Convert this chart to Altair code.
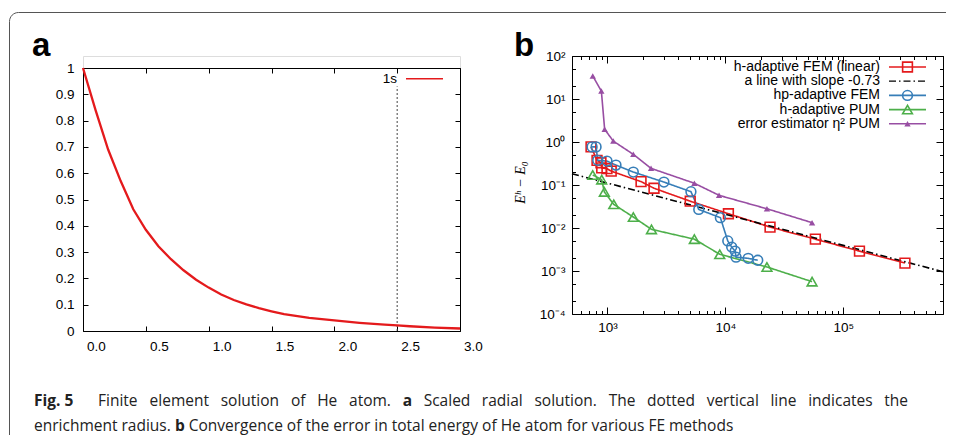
import altair as alt
import pandas as pd

# ---------------- Panel a : scaled radial solution ----------------
r_vals = [0.0, 0.1, 0.2, 0.3, 0.4, 0.5, 0.6, 0.7, 0.8, 0.9, 1.0, 1.1, 1.2,
          1.3, 1.4, 1.5, 1.6, 1.8, 2.0, 2.2, 2.4, 2.5, 2.6, 2.8, 3.0]
psi_vals = [1.00, 0.84, 0.69, 0.57, 0.463, 0.385, 0.322, 0.273, 0.231, 0.195,
            0.165, 0.139, 0.118, 0.101, 0.087, 0.075, 0.064, 0.05, 0.04,
            0.031, 0.024, 0.021, 0.018, 0.013, 0.0095]
curve_name = "1s"
curve_color = "#e41a1c"
enrich_radius = 2.5
enrich_top = 0.93
xa_ticks = [0.0, 0.5, 1.0, 1.5, 2.0, 2.5, 3.0]
ya_ticks = [0.0, 0.1, 0.2, 0.3, 0.4, 0.5, 0.6, 0.7, 0.8, 0.9, 1.0]

# ---------------- Panel b : convergence ----------------
series_names = ["h-adaptive FEM (linear)", "a line with slope -0.73",
                "hp-adaptive FEM", "h-adaptive PUM", "error estimator η² PUM"]
series_colors = ["#e41a1c", "#000000", "#377eb8", "#4daf4a", "#984ea3"]
series_shapes = ["square", None, "circle", "triangle-up", "triangle-up"]

h_fem_dofs = [725, 815, 880, 893, 990, 1075, 1925, 2480, 5030, 10600, 23900,
              57900, 137000, 333000]
h_fem_err = [0.77, 0.375, 0.33, 0.25, 0.24, 0.21, 0.12, 0.084, 0.042, 0.0215,
             0.0105, 0.0055, 0.0029, 0.00153]

slope_dofs = [500, 700000]
slope_err = [0.183, 0.00096]

hp_fem_dofs = [740, 800, 826, 990, 1180, 1655, 3010, 5100, 5940, 9060, 10470,
               11300, 12100, 12300, 15600, 18800]
hp_fem_err = [0.77, 0.77, 0.375, 0.36, 0.29, 0.20, 0.117, 0.07, 0.027, 0.0174,
              0.005, 0.0036, 0.0029, 0.0021, 0.00197, 0.00178]

h_pum_dofs = [750, 893, 940, 1130, 1655, 2360, 5450, 8950, 22500, 54300]
h_pum_err = [0.171, 0.133, 0.069, 0.0355, 0.018, 0.0093, 0.0055, 0.00245,
             0.00124, 0.000565]

est_dofs = [750, 887, 946, 1120, 1655, 2340, 5450, 8830, 22500, 54300]
est_err = [34.3, 15.3, 1.97, 1.05, 0.516, 0.244, 0.11, 0.0575, 0.028, 0.0133]

xb_major = [1000, 10000, 100000]
xb_labels = ["10³", "10⁴", "10⁵"]
xb_all = [500, 600, 700, 800, 900,
          1000, 2000, 3000, 4000, 5000, 6000, 7000, 8000, 9000,
          10000, 20000, 30000, 40000, 50000, 60000, 70000, 80000, 90000,
          100000, 200000, 300000, 400000, 500000, 600000, 700000]
yb_major = [0.0001, 0.001, 0.01, 0.1, 1, 10, 100]
yb_labels = ["10⁻⁴", "10⁻³", "10⁻²", "10⁻¹", "10⁰", "10¹", "10²"]
yb_all = [0.0001, 0.0002, 0.0005, 0.001, 0.002, 0.005, 0.01, 0.02, 0.05,
          0.1, 0.2, 0.5, 1, 2, 5, 10, 20, 50, 100]

caption_fig = "Fig. 5"
caption_1 = [("Finite element solution of He atom.", False), ("a", True),
             ("Scaled radial solution. The dotted vertical line indicates the", False)]
caption_2 = [("enrichment radius.", False), ("b", True),
             ("Convergence of the error in total energy of He atom for various FE methods", False)]

# ---------------- layout constants ----------------
W_A, H_A, TOP_A = 377, 275, 12
W_B, H_B = 371, 258
SPACING = 112
OX, OY = 82, 55            # page position of left panel group
OXB = OX + W_A + SPACING   # page position of right panel group
FONT = "Liberation Sans"
SERIF = "Liberation Serif"
CAP_FONT = "Open Sans"
CAP_FS = 15.5
TFS = 13.5

# approximate Open Sans advance widths (em) used to justify caption line 1
_W = {" ": .26, ".": .266, "a": .556, "c": .476, "d": .613, "e": .561, "f": .339,
      "g": .548, "h": .614, "i": .253, "l": .253, "m": .93, "n": .614, "o": .604,
      "r": .408, "s": .477, "t": .353, "u": .614, "v": .501, "F": .541, "H": .738,
      "S": .539, "T": .536}
_WB = {"a": .60, "b": .63}


def word_width(w, bold):
    tab = _WB if bold else _W
    return sum(tab.get(c, .55) for c in w) * CAP_FS


# frame (top-left corner rounded, only top and left edges visible)
FX1, FY1, FX2, FY2, FR = -73.5, -43.5, 863, 379, 9
_arc = 3.1416 * FR / 2
_w = FX2 - FX1
_h = FY2 - FY1
FRAME_DASH = [_w - FR, _h + _w, _h - FR + _arc + 2, 20]


def tick_axis(orient, offset, values, size, domain):
    return alt.Axis(orient=orient, offset=offset, values=values, labels=False,
                    domain=domain, domainColor="black", domainWidth=1,
                    ticks=True, tickSize=size, tickColor="black", tickWidth=1,
                    grid=False, title=None)


def text_layer(txt, x, y, size, weight="normal", font=FONT, color="#222",
               align="left", baseline="alphabetic"):
    """x, y are coordinates inside the panel group."""
    return alt.Chart(pd.DataFrame({"t": [txt]})).mark_text(
        align=align, baseline=baseline, font=font, fontSize=size,
        fontWeight=weight, color=color
    ).encode(x=alt.value(x), y=alt.value(y), text="t:N")


# ======================= Panel a =======================
a_df = pd.DataFrame({"r": r_vals, "psi": psi_vals})
xs_a = alt.Scale(domain=[0, 3], nice=False, zero=False)
ys_a = alt.Scale(domain=[0, 1], nice=False, zero=False, range=[H_A, TOP_A])

lab_x_a = alt.Axis(orient="bottom", values=xa_ticks, format=".1f", ticks=False,
                   tickSize=0, domain=True, domainColor="black", labelFont=FONT,
                   labelFontSize=TFS, labelColor="black", labelPadding=8,
                   labelOffset=13, labelFlush=False, labelOverlap=False,
                   grid=False, title=None)
lab_y_a = alt.Axis(orient="left", values=ya_ticks, format="~g", ticks=False,
                   tickSize=0, domain=True, domainColor="black", labelFont=FONT,
                   labelFontSize=TFS, labelColor="black", labelPadding=9,
                   labelFlush=False, labelOverlap=False, grid=False, title=None)

curve = alt.Chart(a_df).mark_line(strokeWidth=2.3, color=curve_color).encode(
    x=alt.X("r:Q", scale=xs_a, axis=lab_x_a),
    y=alt.Y("psi:Q", scale=ys_a, axis=lab_y_a),
)
ticks_a1 = alt.Chart(a_df).mark_point(opacity=0).encode(
    x=alt.X("r:Q", scale=xs_a, axis=tick_axis("top", -H_A, xa_ticks, 5, False)),
    y=alt.Y("psi:Q", scale=ys_a, axis=tick_axis("right", -W_A, ya_ticks, 5, False)),
)
ticks_a2 = alt.Chart(a_df).mark_point(opacity=0).encode(
    x=alt.X("r:Q", scale=xs_a, axis=tick_axis("bottom", -(H_A - TOP_A), xa_ticks, 5, True)),
    y=alt.Y("psi:Q", scale=ys_a, axis=tick_axis("left", -W_A, ya_ticks, 5, True)),
)
enrich = alt.Chart(pd.DataFrame({"r": [enrich_radius], "y0": [0.0], "y1": [enrich_top]})).mark_rule(
    strokeDash=[2, 2], color="#444", strokeWidth=1
).encode(
    x=alt.X("r:Q", scale=xs_a, axis=None),
    y=alt.Y("y0:Q", scale=ys_a, axis=None),
    y2="y1:Q",
)
frame = alt.Chart(pd.DataFrame({"k": [0]})).mark_rect(
    fillOpacity=0, stroke="#555", strokeWidth=1, cornerRadiusTopLeft=FR,
    strokeDash=FRAME_DASH
).encode(x=alt.value(FX1), x2=alt.value(FX2), y=alt.value(FY1), y2=alt.value(FY2))

# legend of panel a (label right-aligned, sample line to its right)
LEG_A_Y = 22.7
leg_a = [
    text_layer(curve_name, 314, LEG_A_Y, TFS, color="black", align="right", baseline="middle"),
    alt.Chart(pd.DataFrame({"k": [0]})).mark_rule(color=curve_color, strokeWidth=1.6).encode(
        x=alt.value(323), x2=alt.value(360), y=alt.value(LEG_A_Y)),
]

label_a = text_layer("a", 31 - OX, 55 - OY, 33, "bold", color="black")

# caption: line 1 justified between x=97 and x=907 (page), line 2 natural
CAP_Y1, CAP_Y2 = 405 - OY, 430 - OY
cap_layers = [text_layer(caption_fig, 33 - OX, CAP_Y1, CAP_FS, "bold", CAP_FONT)]
words1 = []
for seg, bold in caption_1:
    for w in seg.split(" "):
        words1.append((w, bold))
nat = sum(word_width(w, b) for w, b in words1)
gap = (907 - 97 - nat) / (len(words1) - 1)
xw = 97
for w, b in words1:
    cap_layers.append(text_layer(w, xw - OX, CAP_Y1, CAP_FS, "bold" if b else "normal", CAP_FONT))
    xw += word_width(w, b) + gap
xw = 33
for seg, bold in caption_2:
    cap_layers.append(text_layer(seg, xw - OX, CAP_Y2, CAP_FS, "bold" if bold else "normal", CAP_FONT))
    xw += word_width(seg, bold) + _W[" "] * CAP_FS

left = alt.layer(frame, enrich, curve, ticks_a1, ticks_a2, *leg_a, label_a, *cap_layers).resolve_axis(
    x="independent", y="independent"
).properties(width=W_A, height=H_A)

# ======================= Panel b =======================
rows = []
for name, xs, ys in [(series_names[0], h_fem_dofs, h_fem_err),
                     (series_names[1], slope_dofs, slope_err),
                     (series_names[2], hp_fem_dofs, hp_fem_err),
                     (series_names[3], h_pum_dofs, h_pum_err),
                     (series_names[4], est_dofs, est_err)]:
    for i, (d, e) in enumerate(zip(xs, ys)):
        rows.append({"series": name, "dofs": d, "err": e, "i": i})
b_df = pd.DataFrame(rows)

xs_b = alt.Scale(type="log", domain=[500, 700000], nice=False)
ys_b = alt.Scale(type="log", domain=[0.0001, 100], nice=False)
color_b = alt.Scale(domain=series_names, range=series_colors)
SLOPE_DASH = [7, 3, 1.5, 3]
dash_b = alt.Scale(domain=series_names, range=[[1, 0], SLOPE_DASH, [1, 0], [1, 0], [1, 0]])

x_major_test = "indexof(%s, datum.value) >= 0" % str(xb_major)
y_major_test = "indexof(%s, datum.value) >= 0" % str(yb_major)
xsz = {"condition": {"test": x_major_test, "value": 7}, "value": 3.5}
ysz = {"condition": {"test": y_major_test, "value": 7}, "value": 3.5}

lab_x_b = alt.Axis(orient="bottom", values=xb_major,
                   labelExpr="%s[round(log(datum.value)/LN10)-3]" % str(xb_labels),
                   ticks=False, tickSize=0, domain=True, domainColor="black",
                   labelFont=FONT, labelFontSize=TFS, labelColor="black",
                   labelPadding=6, labelFlush=False, labelOverlap=False, grid=False,
                   title="DoFs", titleFont=SERIF, titleFontSize=13,
                   titleFontWeight="normal", titleColor="black",
                   titleY=292, titleBaseline="middle")
lab_y_b = alt.Axis(orient="left", values=yb_major,
                   labelExpr="%s[round(log(datum.value)/LN10)+4]" % str(yb_labels),
                   ticks=False, tickSize=0, domain=True, domainColor="black",
                   labelFont=FONT, labelFontSize=TFS, labelColor="black",
                   labelPadding=7, labelFlush=False, labelOverlap=False, grid=False,
                   title="Eʰ − E₀", titleFont=SERIF, titleFontSize=14,
                   titleFontStyle="italic", titleFontWeight="normal",
                   titleColor="black", titleX=-52, titleY=126,
                   titleBaseline="middle", titleAngle=270)

lines_b = alt.Chart(b_df).mark_line(strokeWidth=1.6).encode(
    x=alt.X("dofs:Q", scale=xs_b, axis=lab_x_b),
    y=alt.Y("err:Q", scale=ys_b, axis=lab_y_b),
    color=alt.Color("series:N", scale=color_b, legend=None),
    strokeDash=alt.StrokeDash("series:N", scale=dash_b, legend=None),
    order="i:Q",
)
open_names = [series_names[0], series_names[2], series_names[3]]
open_pts = alt.Chart(b_df).transform_filter(
    alt.FieldOneOfPredicate(field="series", oneOf=open_names)
).mark_point(filled=False, strokeWidth=1.6, size=95, opacity=1).encode(
    x=alt.X("dofs:Q", scale=xs_b, axis=None),
    y=alt.Y("err:Q", scale=ys_b, axis=None),
    color=alt.Color("series:N", scale=color_b, legend=None),
    shape=alt.Shape("series:N", scale=alt.Scale(
        domain=open_names, range=["square", "circle", "triangle-up"]), legend=None),
)
est_pts = alt.Chart(b_df).transform_filter(
    alt.datum.series == series_names[4]
).mark_point(filled=True, shape="triangle-up", size=40, opacity=1).encode(
    x=alt.X("dofs:Q", scale=xs_b, axis=None),
    y=alt.Y("err:Q", scale=ys_b, axis=None),
    color=alt.Color("series:N", scale=color_b, legend=None),
)
ticks_b1 = alt.Chart(b_df).mark_point(opacity=0).encode(
    x=alt.X("dofs:Q", scale=xs_b, axis=tick_axis("top", -H_B, xb_all, xsz, False)),
    y=alt.Y("err:Q", scale=ys_b, axis=tick_axis("right", -W_B, yb_all, ysz, False)),
)
ticks_b2 = alt.Chart(b_df).mark_point(opacity=0).encode(
    x=alt.X("dofs:Q", scale=xs_b, axis=tick_axis("bottom", -H_B, xb_all, xsz, True)),
    y=alt.Y("err:Q", scale=ys_b, axis=tick_axis("left", -W_B, yb_all, ysz, True)),
)

# legend of panel b (gnuplot style: right-aligned label, then line + marker)
LEG_B_Y0, LEG_B_DY = 11, 14.2
LEG_TXT_X, LEG_L1, LEG_L2 = 308, 317, 354
leg_b = []
for k, name in enumerate(series_names):
    yk = LEG_B_Y0 + k * LEG_B_DY
    leg_b.append(text_layer(name, LEG_TXT_X, yk, 14, color="black", align="right", baseline="middle"))
    rule_kw = dict(color=series_colors[k], strokeWidth=1.6 if k != 1 else 1.2)
    if k == 1:
        rule_kw["strokeDash"] = SLOPE_DASH
    leg_b.append(alt.Chart(pd.DataFrame({"k": [k]})).mark_rule(**rule_kw).encode(
        x=alt.value(LEG_L1), x2=alt.value(LEG_L2), y=alt.value(yk)))
    if series_shapes[k] is not None:
        filled = k == 4
        leg_b.append(alt.Chart(pd.DataFrame({"k": [k]})).mark_point(
            shape=series_shapes[k], filled=filled, color=series_colors[k],
            size=40 if filled else 95, strokeWidth=1.6, opacity=1
        ).encode(x=alt.value((LEG_L1 + LEG_L2) / 2), y=alt.value(yk)))

label_b = text_layer("b", 513 - OXB, 55 - OY, 33, "bold", color="black")

right = alt.layer(lines_b, open_pts, est_pts, ticks_b1, ticks_b2, *leg_b, label_b).resolve_axis(
    x="independent", y="independent"
).resolve_scale(shape="independent").properties(width=W_B, height=H_B)

chart = alt.hconcat(left, right, spacing=SPACING, bounds="flush").resolve_scale(
    color="independent", shape="independent", strokeDash="independent"
).properties(
    padding={"left": 0, "top": 3, "right": 0, "bottom": 0}
).configure_view(stroke=None).configure(font=FONT)

chart.save("out.html", embed_options={"renderer": "svg", "actions": False})
